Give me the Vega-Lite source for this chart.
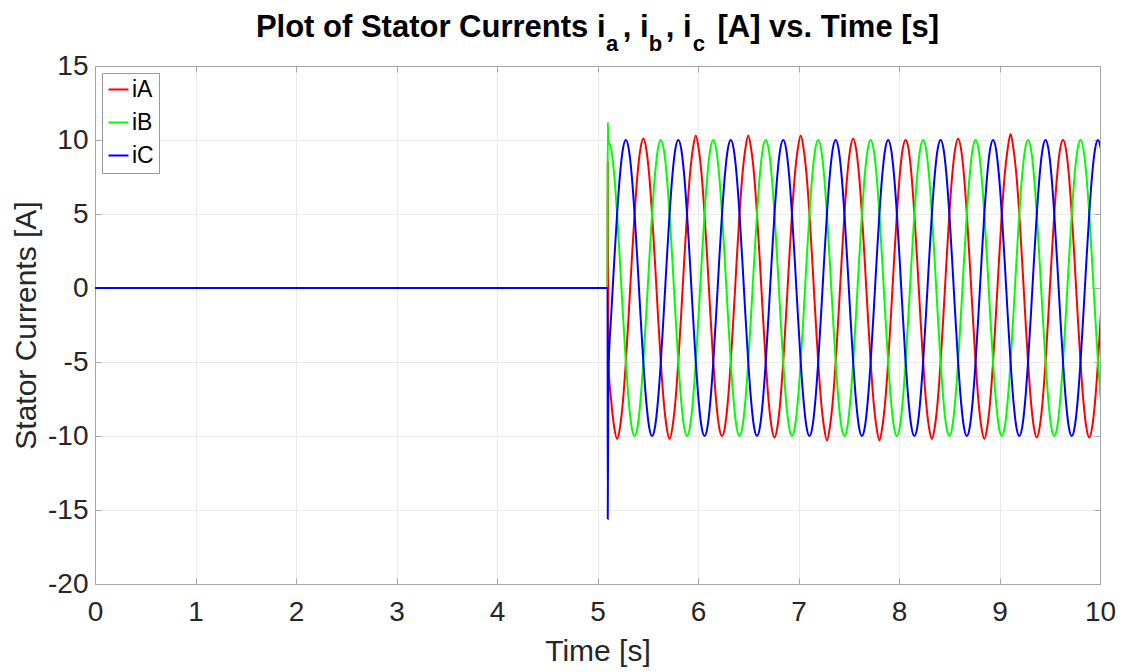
{
"$schema": "https://vega.github.io/schema/vega-lite/v6.json",
"width": 1005, "height": 518,
"autosize": {"type": "none"},
"padding": {"left": 95, "top": 66, "right": 25, "bottom": 88},
"background": "white",
"title": {"text": "Plot of Stator Currents i\u00a0\u00a0, i\u00a0\u00a0, i\u00a0\u00a0 [A] vs. Time [s]", "fontSize": 31, "fontWeight": "bold", "font": "Liberation Sans", "color": "#000000", "offset": -4, "anchor": "middle",
 "subtitle": "\u200b\u00a0\u00a0\u00a0\u00a0\u00a0\u00a0\u00a0\u00a0\u00a0\u00a0\u00a0\u00a0\u00a0\u00a0\u00a0\u00a0\u00a0\u00a0\u00a0a\u00a0\u00a0\u00a0\u00a0\u00a0b\u00a0\u00a0\u00a0\u00a0\u00a0c",
 "subtitleFont": "Liberation Sans", "subtitleFontSize": 22, "subtitleFontWeight": "bold", "subtitleColor": "#000000", "subtitlePadding": -10},
"data": {"values": [
{"t":0,"iA":0,"iB":0,"iC":0},
{"t":5.1,"iA":0,"iB":0,"iC":0},
{"t":5.102,"iA":8.5,"iB":11.2,"iC":-15.6},
{"t":5.108,"iA":-5,"iB":10,"iC":-6},
{"t":5.137,"iA":-7.66,"iB":9.4,"iC":-1.74},
{"t":5.166,"iA":-9.4,"iB":7.66,"iC":1.74},
{"t":5.195,"iA":-10.2,"iB":5,"iC":5},
{"t":5.224,"iA":-9.4,"iB":1.74,"iC":7.66},
{"t":5.253,"iA":-7.66,"iB":-1.74,"iC":9.4},
{"t":5.282,"iA":-5,"iB":-5,"iC":10},
{"t":5.311,"iA":-1.74,"iB":-7.66,"iC":9.4},
{"t":5.34,"iA":1.74,"iB":-9.4,"iC":7.66},
{"t":5.369,"iA":5,"iB":-10,"iC":5},
{"t":5.398,"iA":7.66,"iB":-9.4,"iC":1.74},
{"t":5.427,"iA":9.4,"iB":-7.66,"iC":-1.74},
{"t":5.456,"iA":10.1,"iB":-5,"iC":-5},
{"t":5.485,"iA":9.4,"iB":-1.74,"iC":-7.66},
{"t":5.514,"iA":7.66,"iB":1.74,"iC":-9.4},
{"t":5.543,"iA":5,"iB":5,"iC":-10},
{"t":5.572,"iA":1.74,"iB":7.66,"iC":-9.4},
{"t":5.601,"iA":-1.74,"iB":9.4,"iC":-7.66},
{"t":5.63,"iA":-5,"iB":10,"iC":-5},
{"t":5.659,"iA":-7.66,"iB":9.4,"iC":-1.74},
{"t":5.688,"iA":-9.4,"iB":7.66,"iC":1.74},
{"t":5.717,"iA":-10.2,"iB":5,"iC":5},
{"t":5.746,"iA":-9.4,"iB":1.74,"iC":7.66},
{"t":5.775,"iA":-7.66,"iB":-1.74,"iC":9.4},
{"t":5.804,"iA":-5,"iB":-5,"iC":10},
{"t":5.833,"iA":-1.74,"iB":-7.66,"iC":9.4},
{"t":5.862,"iA":1.74,"iB":-9.4,"iC":7.66},
{"t":5.891,"iA":5,"iB":-10,"iC":5},
{"t":5.92,"iA":7.66,"iB":-9.4,"iC":1.74},
{"t":5.949,"iA":9.4,"iB":-7.66,"iC":-1.74},
{"t":5.978,"iA":10.3,"iB":-5,"iC":-5},
{"t":6.007,"iA":9.4,"iB":-1.74,"iC":-7.66},
{"t":6.036,"iA":7.66,"iB":1.74,"iC":-9.4},
{"t":6.065,"iA":5,"iB":5,"iC":-10},
{"t":6.094,"iA":1.74,"iB":7.66,"iC":-9.4},
{"t":6.123,"iA":-1.74,"iB":9.4,"iC":-7.66},
{"t":6.152,"iA":-5,"iB":10,"iC":-5},
{"t":6.181,"iA":-7.66,"iB":9.4,"iC":-1.74},
{"t":6.21,"iA":-9.4,"iB":7.66,"iC":1.74},
{"t":6.239,"iA":-10,"iB":5,"iC":5},
{"t":6.268,"iA":-9.4,"iB":1.74,"iC":7.66},
{"t":6.297,"iA":-7.66,"iB":-1.74,"iC":9.4},
{"t":6.326,"iA":-5,"iB":-5,"iC":10},
{"t":6.355,"iA":-1.74,"iB":-7.66,"iC":9.4},
{"t":6.384,"iA":1.74,"iB":-9.4,"iC":7.66},
{"t":6.413,"iA":5,"iB":-10,"iC":5},
{"t":6.442,"iA":7.66,"iB":-9.4,"iC":1.74},
{"t":6.471,"iA":9.4,"iB":-7.66,"iC":-1.74},
{"t":6.5,"iA":10.3,"iB":-5,"iC":-5},
{"t":6.529,"iA":9.4,"iB":-1.74,"iC":-7.66},
{"t":6.558,"iA":7.66,"iB":1.74,"iC":-9.4},
{"t":6.587,"iA":5,"iB":5,"iC":-10},
{"t":6.616,"iA":1.74,"iB":7.66,"iC":-9.4},
{"t":6.645,"iA":-1.74,"iB":9.4,"iC":-7.66},
{"t":6.674,"iA":-5,"iB":10,"iC":-5},
{"t":6.703,"iA":-7.66,"iB":9.4,"iC":-1.74},
{"t":6.732,"iA":-9.4,"iB":7.66,"iC":1.74},
{"t":6.761,"iA":-10.1,"iB":5,"iC":5},
{"t":6.79,"iA":-9.4,"iB":1.74,"iC":7.66},
{"t":6.819,"iA":-7.66,"iB":-1.74,"iC":9.4},
{"t":6.848,"iA":-5,"iB":-5,"iC":10},
{"t":6.877,"iA":-1.74,"iB":-7.66,"iC":9.4},
{"t":6.906,"iA":1.74,"iB":-9.4,"iC":7.66},
{"t":6.935,"iA":5,"iB":-10,"iC":5},
{"t":6.964,"iA":7.66,"iB":-9.4,"iC":1.74},
{"t":6.993,"iA":9.4,"iB":-7.66,"iC":-1.74},
{"t":7.022,"iA":10.3,"iB":-5,"iC":-5},
{"t":7.051,"iA":9.4,"iB":-1.74,"iC":-7.66},
{"t":7.08,"iA":7.66,"iB":1.74,"iC":-9.4},
{"t":7.109,"iA":5,"iB":5,"iC":-10},
{"t":7.138,"iA":1.74,"iB":7.66,"iC":-9.4},
{"t":7.167,"iA":-1.74,"iB":9.4,"iC":-7.66},
{"t":7.196,"iA":-5,"iB":10,"iC":-5},
{"t":7.225,"iA":-7.66,"iB":9.4,"iC":-1.74},
{"t":7.254,"iA":-9.4,"iB":7.66,"iC":1.74},
{"t":7.283,"iA":-10.3,"iB":5,"iC":5},
{"t":7.312,"iA":-9.4,"iB":1.74,"iC":7.66},
{"t":7.341,"iA":-7.66,"iB":-1.74,"iC":9.4},
{"t":7.37,"iA":-5,"iB":-5,"iC":10},
{"t":7.399,"iA":-1.74,"iB":-7.66,"iC":9.4},
{"t":7.428,"iA":1.74,"iB":-9.4,"iC":7.66},
{"t":7.457,"iA":5,"iB":-10,"iC":5},
{"t":7.486,"iA":7.66,"iB":-9.4,"iC":1.74},
{"t":7.515,"iA":9.4,"iB":-7.66,"iC":-1.74},
{"t":7.544,"iA":10.1,"iB":-5,"iC":-5},
{"t":7.573,"iA":9.4,"iB":-1.74,"iC":-7.66},
{"t":7.602,"iA":7.66,"iB":1.74,"iC":-9.4},
{"t":7.631,"iA":5,"iB":5,"iC":-10},
{"t":7.66,"iA":1.74,"iB":7.66,"iC":-9.4},
{"t":7.689,"iA":-1.74,"iB":9.4,"iC":-7.66},
{"t":7.718,"iA":-5,"iB":10,"iC":-5},
{"t":7.747,"iA":-7.66,"iB":9.4,"iC":-1.74},
{"t":7.776,"iA":-9.4,"iB":7.66,"iC":1.74},
{"t":7.805,"iA":-10.3,"iB":5,"iC":5},
{"t":7.834,"iA":-9.4,"iB":1.74,"iC":7.66},
{"t":7.863,"iA":-7.66,"iB":-1.74,"iC":9.4},
{"t":7.892,"iA":-5,"iB":-5,"iC":10},
{"t":7.921,"iA":-1.74,"iB":-7.66,"iC":9.4},
{"t":7.95,"iA":1.74,"iB":-9.4,"iC":7.66},
{"t":7.979,"iA":5,"iB":-10,"iC":5},
{"t":8.008,"iA":7.66,"iB":-9.4,"iC":1.74},
{"t":8.037,"iA":9.4,"iB":-7.66,"iC":-1.74},
{"t":8.066,"iA":10,"iB":-5,"iC":-5},
{"t":8.095,"iA":9.4,"iB":-1.74,"iC":-7.66},
{"t":8.124,"iA":7.66,"iB":1.74,"iC":-9.4},
{"t":8.153,"iA":5,"iB":5,"iC":-10},
{"t":8.182,"iA":1.74,"iB":7.66,"iC":-9.4},
{"t":8.211,"iA":-1.74,"iB":9.4,"iC":-7.66},
{"t":8.24,"iA":-5,"iB":10,"iC":-5},
{"t":8.269,"iA":-7.66,"iB":9.4,"iC":-1.74},
{"t":8.298,"iA":-9.4,"iB":7.66,"iC":1.74},
{"t":8.327,"iA":-10.2,"iB":5,"iC":5},
{"t":8.356,"iA":-9.4,"iB":1.74,"iC":7.66},
{"t":8.385,"iA":-7.66,"iB":-1.74,"iC":9.4},
{"t":8.414,"iA":-5,"iB":-5,"iC":10},
{"t":8.443,"iA":-1.74,"iB":-7.66,"iC":9.4},
{"t":8.472,"iA":1.74,"iB":-9.4,"iC":7.66},
{"t":8.501,"iA":5,"iB":-10,"iC":5},
{"t":8.53,"iA":7.66,"iB":-9.4,"iC":1.74},
{"t":8.559,"iA":9.4,"iB":-7.66,"iC":-1.74},
{"t":8.588,"iA":10.1,"iB":-5,"iC":-5},
{"t":8.617,"iA":9.4,"iB":-1.74,"iC":-7.66},
{"t":8.646,"iA":7.66,"iB":1.74,"iC":-9.4},
{"t":8.675,"iA":5,"iB":5,"iC":-10},
{"t":8.704,"iA":1.74,"iB":7.66,"iC":-9.4},
{"t":8.733,"iA":-1.74,"iB":9.4,"iC":-7.66},
{"t":8.762,"iA":-5,"iB":10,"iC":-5},
{"t":8.791,"iA":-7.66,"iB":9.4,"iC":-1.74},
{"t":8.82,"iA":-9.4,"iB":7.66,"iC":1.74},
{"t":8.849,"iA":-10.2,"iB":5,"iC":5},
{"t":8.878,"iA":-9.4,"iB":1.74,"iC":7.66},
{"t":8.907,"iA":-7.66,"iB":-1.74,"iC":9.4},
{"t":8.936,"iA":-5,"iB":-5,"iC":10},
{"t":8.965,"iA":-1.74,"iB":-7.66,"iC":9.4},
{"t":8.994,"iA":1.74,"iB":-9.4,"iC":7.66},
{"t":9.023,"iA":5,"iB":-10,"iC":5},
{"t":9.052,"iA":7.66,"iB":-9.4,"iC":1.74},
{"t":9.081,"iA":9.4,"iB":-7.66,"iC":-1.74},
{"t":9.11,"iA":10.4,"iB":-5,"iC":-5},
{"t":9.139,"iA":9.4,"iB":-1.74,"iC":-7.66},
{"t":9.168,"iA":7.66,"iB":1.74,"iC":-9.4},
{"t":9.197,"iA":5,"iB":5,"iC":-10},
{"t":9.226,"iA":1.74,"iB":7.66,"iC":-9.4},
{"t":9.255,"iA":-1.74,"iB":9.4,"iC":-7.66},
{"t":9.284,"iA":-5,"iB":10,"iC":-5},
{"t":9.313,"iA":-7.66,"iB":9.4,"iC":-1.74},
{"t":9.342,"iA":-9.4,"iB":7.66,"iC":1.74},
{"t":9.371,"iA":-10.1,"iB":5,"iC":5},
{"t":9.4,"iA":-9.4,"iB":1.74,"iC":7.66},
{"t":9.429,"iA":-7.66,"iB":-1.74,"iC":9.4},
{"t":9.458,"iA":-5,"iB":-5,"iC":10},
{"t":9.487,"iA":-1.74,"iB":-7.66,"iC":9.4},
{"t":9.516,"iA":1.74,"iB":-9.4,"iC":7.66},
{"t":9.545,"iA":5,"iB":-10,"iC":5},
{"t":9.574,"iA":7.66,"iB":-9.4,"iC":1.74},
{"t":9.603,"iA":9.4,"iB":-7.66,"iC":-1.74},
{"t":9.632,"iA":10,"iB":-5,"iC":-5},
{"t":9.661,"iA":9.4,"iB":-1.74,"iC":-7.66},
{"t":9.69,"iA":7.66,"iB":1.74,"iC":-9.4},
{"t":9.719,"iA":5,"iB":5,"iC":-10},
{"t":9.748,"iA":1.74,"iB":7.66,"iC":-9.4},
{"t":9.777,"iA":-1.74,"iB":9.4,"iC":-7.66},
{"t":9.806,"iA":-5,"iB":10,"iC":-5},
{"t":9.835,"iA":-7.66,"iB":9.4,"iC":-1.74},
{"t":9.864,"iA":-9.4,"iB":7.66,"iC":1.74},
{"t":9.893,"iA":-10.1,"iB":5,"iC":5},
{"t":9.922,"iA":-9.4,"iB":1.74,"iC":7.66},
{"t":9.951,"iA":-7.66,"iB":-1.74,"iC":9.4},
{"t":9.98,"iA":-5,"iB":-5,"iC":10},
{"t":10.009,"iA":-1.74,"iB":-7.66,"iC":9.4}
]},
"transform": [{"fold": ["iA", "iB", "iC"], "as": ["series", "current"]}],
"layer": [
{
"mark": {"type": "line", "interpolate": "monotone", "strokeWidth": 2, "clip": true},
"encoding": {
"x": {"field": "t", "type": "quantitative", "scale": {"domain": [0, 10], "nice": false, "zero": false},
 "axis": {"orient": "bottom", "values": [0,1,2,3,4,5,6,7,8,9,10], "title": "Time [s]", "grid": true, "tickSize": -6, "labelPadding": 20, "titlePadding": 10, "labelFlush": false}},
"y": {"field": "current", "type": "quantitative", "scale": {"domain": [-20, 15], "nice": false, "zero": false},
 "axis": {"orient": "left", "values": [-20,-15,-10,-5,0,5,10,15], "labelExpr": "datum.value < 0 ? '-' + abs(datum.value) : '' + datum.value", "title": "Stator Currents [A]", "grid": true, "tickSize": -6, "labelPadding": 13, "titlePadding": 6, "labelFlush": false}},
"color": {"field": "series", "type": "nominal", "scale": {"domain": ["iA", "iB", "iC"], "range": ["#ff0000", "#00ff00", "#0000ff"]},
 "legend": {"orient": "none", "legendX": 7, "legendY": 7, "title": null, "symbolType": "stroke", "symbolSize": 400, "symbolStrokeWidth": 2, "labelFontSize": 23, "labelFont": "Liberation Sans", "labelColor": "#000000", "labelOffset": 2, "rowPadding": 9, "padding": 5, "fillColor": "#ffffff", "strokeColor": "#999999", "cornerRadius": 0}},
"order": {"field": "t", "type": "quantitative"}
}
},
{
"mark": {"type": "line", "opacity": 0},
"encoding": {
"x": {"field": "t", "type": "quantitative", "axis": {"orient": "top", "values": [0,1,2,3,4,5,6,7,8,9,10], "labels": false, "title": null, "grid": false, "tickSize": -6, "domain": true}},
"y": {"field": "current", "type": "quantitative", "axis": {"orient": "right", "values": [-20,-15,-10,-5,0,5,10,15], "labels": false, "title": null, "grid": false, "tickSize": -6, "domain": true}}
}
}
],
"resolve": {"axis": {"x": "independent", "y": "independent"}},
"config": {
"view": {"stroke": "#a6a6a6"},
"font": "Liberation Sans",
"axis": {"domainColor": "#a6a6a6", "tickColor": "#a6a6a6", "gridColor": "#ebebeb", "gridWidth": 1, "labelColor": "#262626", "labelFont": "Liberation Sans", "labelFontSize": 28, "titleFont": "Liberation Sans", "titleFontSize": 30, "titleFontWeight": "normal", "titleColor": "#262626"}
}
}
